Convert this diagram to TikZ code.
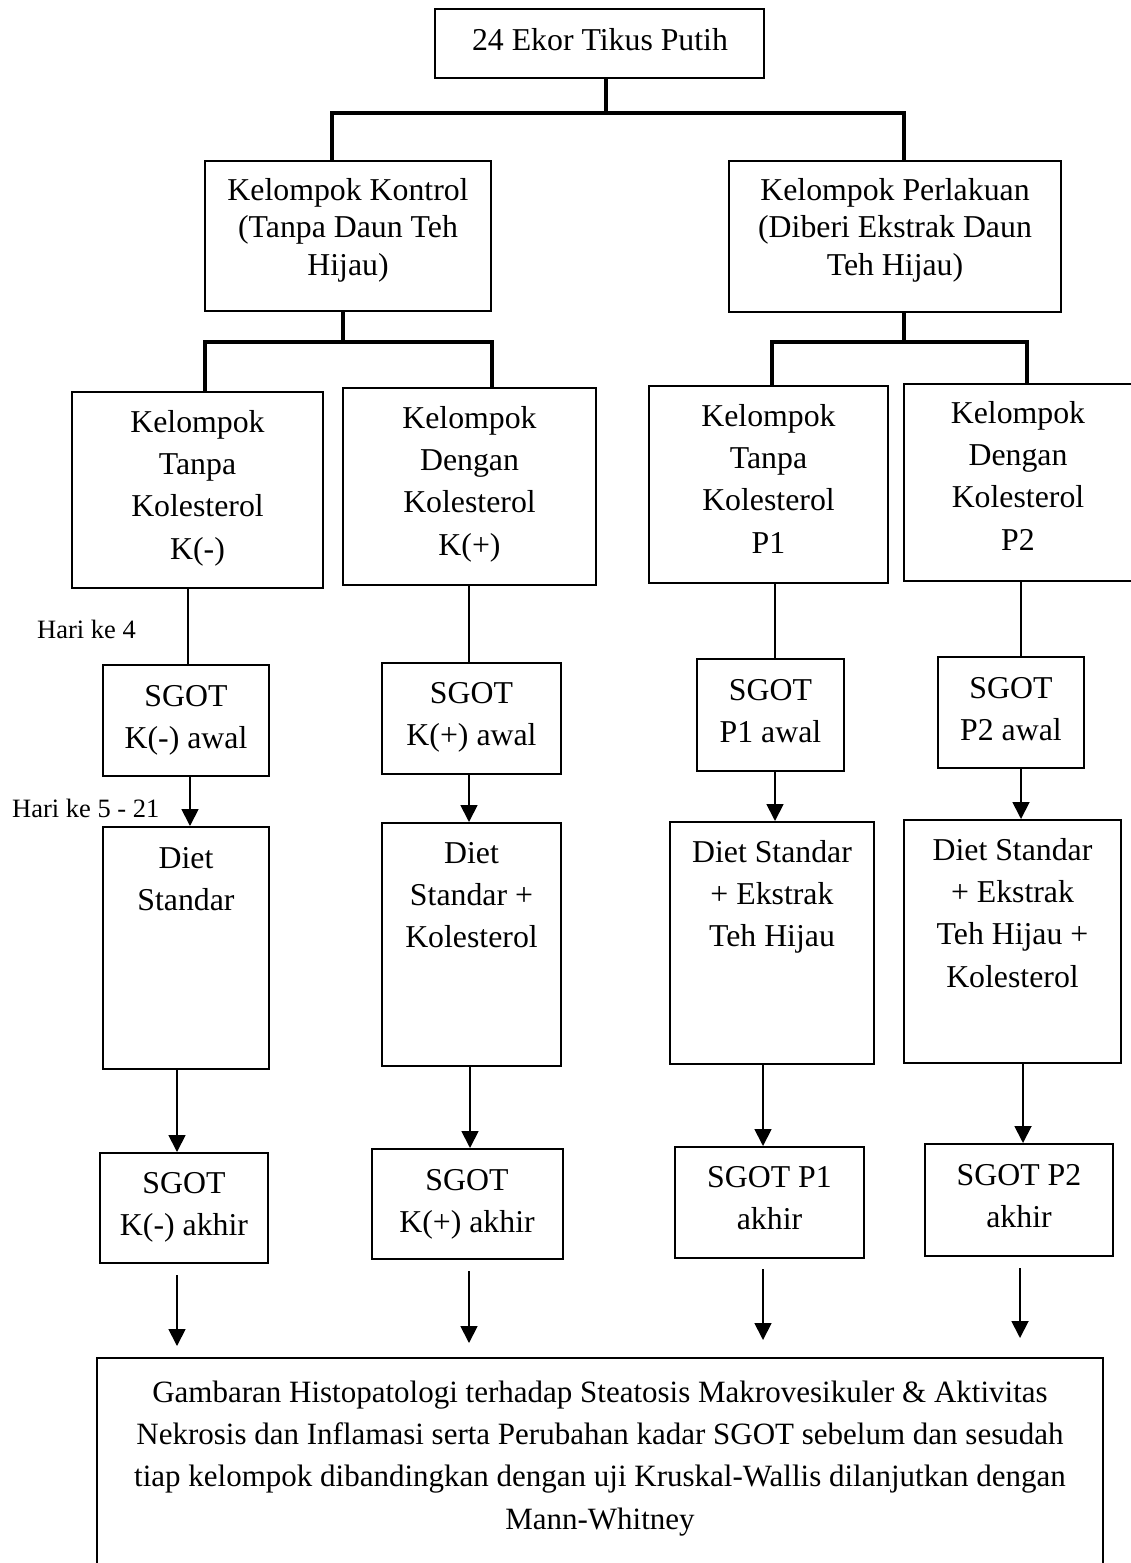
\documentclass[tikz,border=0pt]{standalone}
\usepackage{fontspec}
\setmainfont{Liberation Serif}
\usetikzlibrary{arrows.meta,fit}
\newcommand\tstr{\rule{0pt}{25pt}}
\begin{document}
\begin{tikzpicture}[x=1pt,y=-1pt,
  box/.style={draw, line width=2pt, inner sep=0pt},
  txt/.style={align=center, inner sep=0pt, anchor=north, font=\fontsize{31.8}{42.3}\selectfont},
  txtb/.style={align=center, inner sep=0pt, anchor=north, font=\fontsize{31.8}{37.5}\selectfont},
  txtf/.style={align=center, inner sep=0pt, anchor=north, font=\fontsize{31}{42.3}\selectfont},
  lbl/.style={inner sep=0pt, anchor=base west, font=\fontsize{26.5}{30}\selectfont},
  tree/.style={line width=3.2pt},
  conn/.style={line width=1.8pt},
  arr/.style={line width=1.8pt, -{Triangle[width=17pt,length=17pt]}},
]
\useasboundingbox (0,0) rectangle (1130,1563);

% boxes
\node[box, fit={(435,9) (764,78)}] (top) {};
\node[box, fit={(205,161) (491,311)}] (kon) {};
\node[box, fit={(729,161) (1061,312)}] (per) {};
\node[box, fit={(72,392) (323,588)}] (km) {};
\node[box, fit={(343,388) (596,585)}] (kp) {};
\node[box, fit={(649,386) (888,583)}] (pa) {};
\node[box, fit={(904,384) (1133,581)}] (pb) {};
\node[box, fit={(103,665) (269,776)}] (kma) {};
\node[box, fit={(382,663) (561,774)}] (kpa) {};
\node[box, fit={(697,659) (844,771)}] (paa) {};
\node[box, fit={(938,657) (1084,768)}] (pba) {};
\node[box, fit={(103,827) (269,1069)}] (kmd) {};
\node[box, fit={(382,823) (561,1066)}] (kpd) {};
\node[box, fit={(670,822) (874,1064)}] (pad) {};
\node[box, fit={(904,820) (1121,1063)}] (pbd) {};
\node[box, fit={(100,1153) (268,1263)}] (kmz) {};
\node[box, fit={(371.5,1149) (563,1259)}] (kpz) {};
\node[box, fit={(675,1147) (864,1258)}] (paz) {};
\node[box, fit={(925,1144) (1113,1256)}] (pbz) {};
\node[box, fit={(97,1358) (1103,1600)}] (fin) {};

% texts
\node[txt] (ttop) at (600,25) {\tstr 24 Ekor Tikus Putih};
\node[txtb] (tkon) at (348,175) {\tstr Kelompok Kontrol\\(Tanpa Daun Teh\\Hijau)};
\node[txtb] (tper) at (895,175) {\tstr Kelompok Perlakuan\\(Diberi Ekstrak Daun\\Teh Hijau)};
\node[txt] (tkm) at (197.5,407) {\tstr Kelompok\\Tanpa\\Kolesterol\\K(-)};
\node[txt] (tkp) at (469.5,403) {\tstr Kelompok\\Dengan\\Kolesterol\\K(+)};
\node[txt] (tpa) at (768.5,401) {\tstr Kelompok\\Tanpa\\Kolesterol\\P1};
\node[txt] (tpb) at (1018,398) {\tstr Kelompok\\Dengan\\Kolesterol\\P2};
\node[txt] (tkma) at (186,681) {\tstr SGOT\\K(-) awal};
\node[txt] (tkpa) at (471.5,678) {\tstr SGOT\\K(+) awal};
\node[txt] (tpaa) at (770.5,675) {\tstr SGOT\\P1 awal};
\node[txt] (tpba) at (1011,673) {\tstr SGOT\\P2 awal};
\node[txt] (tkmd) at (186,843) {\tstr Diet\\Standar};
\node[txt] (tkpd) at (471.5,838) {\tstr Diet\\Standar +\\Kolesterol};
\node[txt] (tpad) at (772,837) {\tstr Diet Standar\\+ Ekstrak\\Teh Hijau};
\node[txt] (tpbd) at (1012.5,835) {\tstr Diet Standar\\+ Ekstrak\\Teh Hijau +\\Kolesterol};
\node[txt] (tkmz) at (184,1168) {\tstr SGOT\\K(-) akhir};
\node[txt] (tkpz) at (467,1165) {\tstr SGOT\\K(+) akhir};
\node[txt] (tpaz) at (769.5,1162) {\tstr SGOT P1\\akhir};
\node[txt] (tpbz) at (1019,1160) {\tstr SGOT P2\\akhir};
\node[txtf] (tfin) at (600,1377) {\tstr Gambaran Histopatologi terhadap Steatosis Makrovesikuler \& Aktivitas\\Nekrosis dan Inflamasi serta Perubahan kadar SGOT sebelum dan sesudah\\tiap kelompok dibandingkan dengan uji Kruskal-Wallis dilanjutkan dengan\\Mann-Whitney};
\node[lbl] (h4) at (37,638) {Hari ke 4};
\node[lbl] (h5) at (12,817) {Hari ke 5 - 21};

% tree connectors
\coordinate (j1) at (606,113);
\coordinate (j1l) at (332,113);
\coordinate (j1r) at (904,113);
\draw[tree] (top.south -| j1) -- (j1);
\draw[tree] (kon.north -| j1l) -- (j1l) -- (j1r) -- (per.north -| j1r);
\coordinate (j2) at (343,342);
\coordinate (j2l) at (205,342);
\coordinate (j2r) at (492,342);
\draw[tree] (kon.south -| j2) -- (j2);
\draw[tree] (km.north -| j2l) -- (j2l) -- (j2r) -- (kp.north -| j2r);
\coordinate (j3) at (904,342);
\coordinate (j3l) at (772,342);
\coordinate (j3r) at (1027,342);
\draw[tree] (per.south -| j3) -- (j3);
\draw[tree] (pa.north -| j3l) -- (j3l) -- (j3r) -- (pb.north -| j3r);

% plain connectors to SGOT awal
\coordinate (c1) at (188,0);
\coordinate (c2) at (469,0);
\coordinate (c3) at (775,0);
\coordinate (c4) at (1021,0);
\draw[conn] (km.south -| c1) -- (kma.north -| c1);
\draw[conn] (kp.south -| c2) -- (kpa.north -| c2);
\draw[conn] (pa.south -| c3) -- (paa.north -| c3);
\draw[conn] (pb.south -| c4) -- (pba.north -| c4);

% arrows to diet
\coordinate (a1) at (190,0);
\coordinate (a2) at (469,0);
\coordinate (a3) at (775,0);
\coordinate (a4) at (1021,0);
\draw[arr] (kma.south -| a1) -- (kmd.north -| a1);
\draw[arr] (kpa.south -| a2) -- (kpd.north -| a2);
\draw[arr] (paa.south -| a3) -- (pad.north -| a3);
\draw[arr] (pba.south -| a4) -- (pbd.north -| a4);

% arrows to SGOT akhir
\coordinate (b1) at (177,0);
\coordinate (b2) at (470,0);
\coordinate (b3) at (763,0);
\coordinate (b4) at (1023,0);
\draw[arr] (kmd.south -| b1) -- (kmz.north -| b1);
\draw[arr] (kpd.south -| b2) -- (kpz.north -| b2);
\draw[arr] (pad.south -| b3) -- (paz.north -| b3);
\draw[arr] (pbd.south -| b4) -- (pbz.north -| b4);

% final arrows (free ends)
\coordinate (s1) at (177,1275); \coordinate (e1) at (177,1346);
\coordinate (s2) at (469,1271); \coordinate (e2) at (469,1343);
\coordinate (s3) at (763,1269); \coordinate (e3) at (763,1340);
\coordinate (s4) at (1020,1268); \coordinate (e4) at (1020,1338);
\draw[arr] (s1) -- (e1);
\draw[arr] (s2) -- (e2);
\draw[arr] (s3) -- (e3);
\draw[arr] (s4) -- (e4);
\end{tikzpicture}
\end{document}
